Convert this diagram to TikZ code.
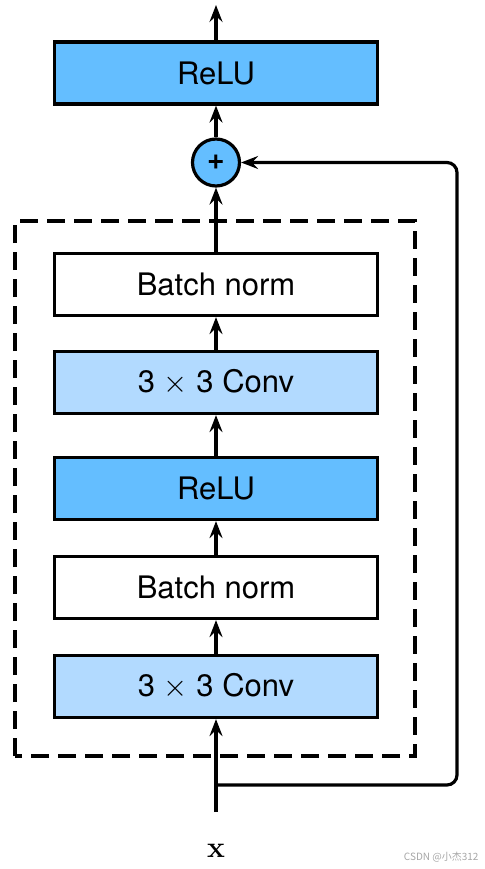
\RequirePackage{fix-cm}
\documentclass[tikz,border=0pt]{standalone}
\usepackage[no-math]{fontspec}
\setmainfont{TeX Gyre Heros}
\newfontfamily\cjkfont{Noto Sans CJK SC}
\usetikzlibrary{arrows.meta}
\definecolor{relublue}{RGB}{100,190,255}
\definecolor{convblue}{RGB}{178,218,255}
\tikzset{
    block/.style={draw=black, line width=3.2pt, minimum width=323pt, minimum height=62pt,
        inner sep=0pt, font=\fontsize{31}{36}\selectfont},
    relubox/.style={block, fill=relublue},
    convbox/.style={block, fill=convblue},
    normbox/.style={block, fill=white},
    sumnode/.style={circle, draw=black, line width=3.2pt, fill=relublue, minimum size=47pt,
        inner sep=0pt, font=\fontsize{30}{30}\selectfont\bfseries},
    flow/.style={line width=3.2pt, -{Stealth[length=17pt, width=13pt, inset=6pt]}},
}
\begin{document}
\begin{tikzpicture}[x=1pt, y=-1pt]
    \useasboundingbox (0,0) rectangle (484,869);

    % Output of the block
    \node[relubox] (relu2) at (216,73) {ReLU};
    \node[sumnode] (add) at (216,162.5) {+};
    \coordinate (out) at (216,5);

    % Residual branch
    \draw[line width=3.2pt, dash pattern=on 18pt off 9pt] (15,756) rectangle (415,221);
    \node[normbox] (bn2) at (216,284.5) {Batch norm};
    \node[convbox] (conv2) at (216,382.5) {3 $\times$ 3 Conv};
    \node[relubox] (relu1) at (216,488.5) {ReLU};
    \node[normbox] (bn1) at (216,587.5) {Batch norm};
    \node[convbox] (conv1) at (216,686.5) {3 $\times$ 3 Conv};

    % Input
    \coordinate (in) at (216,812);
    \coordinate (split) at (216,785);
    \coordinate (skip) at (457,162.5);
    \node[font=\fontsize{30}{30}\selectfont] (xlabel) at (216,851) {$\mathbf{x}$};

    % Connectors
    \draw[flow] (in) -- (conv1);
    \draw[flow] (conv1) -- (bn1);
    \draw[flow] (bn1) -- (relu1);
    \draw[flow] (relu1) -- (conv2);
    \draw[flow] (conv2) -- (bn2);
    \draw[flow] (bn2) -- (add);
    \draw[flow] (add) -- (relu2);
    \draw[flow] (relu2) -- (out);
    \draw[flow, rounded corners=10pt] (split) -| (skip) -- (add);

    % Watermark
    \node[text=black!35, font=\cjkfont\fontsize{10}{10}\selectfont, anchor=east] (mark) at (482,857) {CSDN @小杰312};
\end{tikzpicture}
\end{document}
